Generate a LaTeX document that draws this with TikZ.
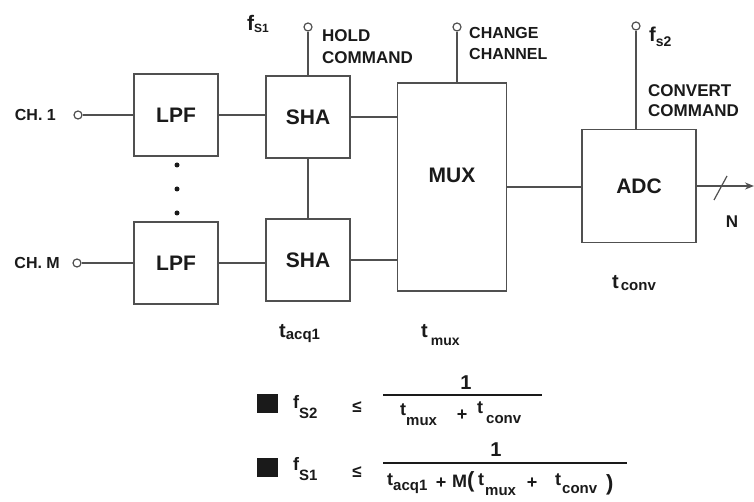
\documentclass[tikz,border=0pt]{standalone}
\usepackage{fontspec}
\setmainfont{Liberation Sans}
\usetikzlibrary{arrows.meta}
\definecolor{ln}{HTML}{505050}
\definecolor{tx}{HTML}{1A1A1A}
\newcommand{\fs}[1]{\fontsize{#1}{#1}\selectfont}
% \sbx[kern]{main}{sub}{subsize}{shift}
\newcommand{\sbx}[5][0pt]{#2\kern#1\raisebox{#5}{\fs{#4}#3}}
\begin{document}
\begin{tikzpicture}[x=1pt,y=-1pt,
  blk/.style={draw=ln, line width=1.5pt, inner sep=0pt, minimum width=84pt, minimum height=82pt, font=\bfseries\fs{21}, text=tx},
  term/.style={circle, draw=ln, line width=1.2pt, fill=white, minimum size=8pt, inner sep=0pt},
  lbl/.style={font=\bfseries\fs{16}, text=tx, inner sep=0pt},
  lbl2/.style={font=\bfseries\fontsize{16}{21}\selectfont, text=tx, inner sep=0pt, align=left, anchor=north west},
  sym/.style={font=\bfseries\fs{18}, text=tx, inner sep=0pt},
  wire/.style={draw=ln, line width=1.5pt},
  dotn/.style={circle, fill=tx, minimum size=5pt, inner sep=0pt},
  sq/.style={fill=tx, minimum width=21pt, minimum height=19pt, inner sep=0pt}]

\fill[white] (0,0) rectangle (754,502);
\useasboundingbox (0,0) rectangle (754,502);

% blocks
\node[blk] (lpf1) at (176,115) {LPF};
\node[blk] (lpf2) at (176,263) {LPF};
\node[blk] (sha1) at (308,117) {SHA};
\node[blk] (sha2) at (308,260) {SHA};
\node[blk, minimum width=109pt, minimum height=208pt,
      label={[font=\bfseries\fs{21}, text=tx, yshift=12pt]center:MUX}] (mux) at (452,187) {};
\node[blk, minimum width=114pt, minimum height=113pt] (adc) at (639,186) {ADC};

% terminals
\node[term] (ch1) at (78,115) {};
\node[term] (chm) at (77,263) {};
\node[term] (hold) at (308,27) {};
\node[term] (chg) at (457,27) {};
\node[term] (cnv) at (636,26) {};

% wires
\draw[wire] (ch1) -- (lpf1.west);
\draw[wire] (chm) -- (lpf2.west);
\draw[wire] (lpf1.east) -- (lpf1.east -| sha1.west);
\draw[wire] (lpf2.east) -- (lpf2.east -| sha2.west);
\draw[wire] (sha1.east) -- (sha1.east -| mux.west);
\draw[wire] (sha2.east) -- (sha2.east -| mux.west);
\draw[wire] (sha1.south) -- (sha2.north);
\draw[wire] (hold) -- (hold |- sha1.north);
\draw[wire] (chg) -- (chg |- mux.north);
\draw[wire] (cnv) -- (cnv |- adc.north);
\draw[wire] (mux.east) -- (mux.east -| adc.west);
\coordinate (out) at (754,186);
\draw[wire, -{Stealth[length=9pt,width=7pt]}] (adc.east) -- (out);
\coordinate (sl1) at (714,200);
\coordinate (sl2) at (727,176);
\draw[wire, line width=1.2pt] (sl1) -- (sl2);

% dots
\node[dotn] (dt1) at (177,165) {};
\node[dotn] (dt2) at (177,189) {};
\node[dotn] (dt3) at (177,213) {};

% labels
\node[lbl, anchor=east] (ch1l) at (56,115) {CH. 1};
\node[lbl, anchor=east] (chml) at (60,263) {CH. M};
\node[lbl2, font=\bfseries\fontsize{17}{22}\selectfont] (holdl) at (322,29) {HOLD\\COMMAND};
\node[lbl2] (chgl) at (469,27) {CHANGE\\CHANNEL};
\node[lbl2, font=\bfseries\fontsize{17}{20}\selectfont] (cnvl) at (648,84) {CONVERT\\COMMAND};
\node[lbl, font=\bfseries\fs{17}] (nl) at (732,222) {N};
\node[sym, font=\bfseries\fs{21}, anchor=base west] (fs1) at (247,31) {\sbx{f}{S1}{12}{-2pt}};
\node[sym, font=\bfseries\fs{20}, anchor=base west] (fs2) at (649,42) {\sbx{f}{s2}{14}{-5pt}};
\node[sym, font=\bfseries\fs{20}, anchor=base west] (tacq) at (279,337) {\sbx{t}{acq1}{15}{-2pt}};
\node[sym, font=\bfseries\fs{20}, anchor=base west] (tmux) at (421,337) {\sbx[3pt]{t}{mux}{14}{-8pt}};
\node[sym, font=\bfseries\fs{20}, anchor=base west] (tconv) at (612,288) {\sbx[2pt]{t}{conv}{15}{-2pt}};

% formula 1
\node[sq] (b1) at (267,403) {};
\node[sym, anchor=base west] (f2) at (293,408) {\sbx{f}{S2}{15}{-10pt}};
\node[sym, font=\bfseries\fs{17}] (le1) at (357,407) {≤};
\node[sym, font=\bfseries\fs{20}] (n1) at (466,383) {1};
\coordinate (bar1l) at (383,395);
\coordinate (bar1r) at (542,395);
\draw[tx, line width=1.3pt] (bar1l) -- (bar1r);
\node[sym, anchor=base west] (d1a) at (400,415) {\sbx{t}{mux}{15}{-10pt}};
\node[sym] (d1p) at (462,415) {+};
\node[sym, anchor=base west] (d1c) at (477,413) {\sbx[3pt]{t}{conv}{15}{-10pt}};

% formula 2
\node[sq] (b2) at (267,467) {};
\node[sym, anchor=base west] (f1) at (293,470) {\sbx{f}{S1}{15}{-10pt}};
\node[sym, font=\bfseries\fs{17}] (le2) at (357,472) {≤};
\node[sym, font=\bfseries\fs{20}] (n2) at (496,450) {1};
\coordinate (bar2l) at (383,463);
\coordinate (bar2r) at (627,463);
\draw[tx, line width=1.3pt] (bar2l) -- (bar2r);
\node[sym, anchor=base west] (d2a) at (387,485) {\sbx{t}{acq1}{15}{-5pt}};
\node[sym] (d2p) at (441,483) {+};
\node[sym, anchor=base west] (d2m) at (452,487) {M\fs{22}(};
\node[sym, anchor=base west] (d2b) at (478,485) {\sbx[1pt]{t}{mux}{15}{-10pt}};
\node[sym] (d2q) at (532,483) {+};
\node[sym, anchor=base west] (d2c) at (555,485) {\sbx[1pt]{t}{conv}{15}{-8pt}};
\node[sym, font=\bfseries\fs{22}, anchor=base west] (d2r) at (606,490) {)};
\end{tikzpicture}
\end{document}
